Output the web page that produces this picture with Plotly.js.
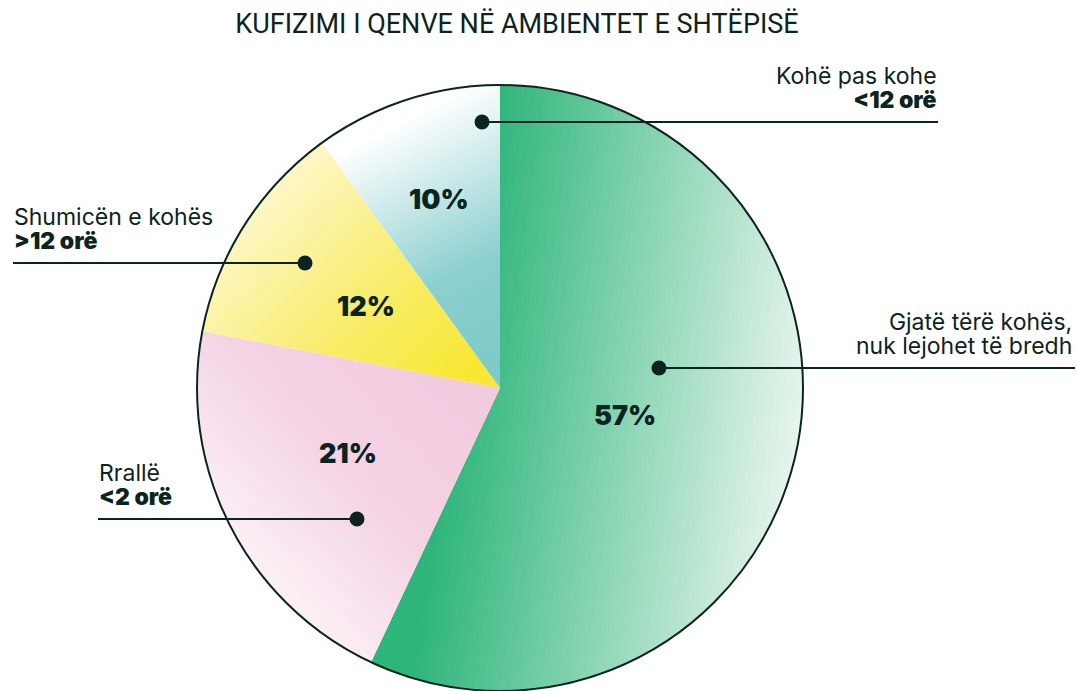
<!DOCTYPE html>
<html>
<head>
<meta charset="utf-8">
<script src="https://cdn.plot.ly/plotly-3.0.1.min.js"></script>
<style>html,body{margin:0;padding:0;background:#fff;}#chart{width:1077px;height:691px;}</style>
</head>
<body>
<div id="chart"></div>
<script>
// ---- data ----
var categories = ["Gjatë tërë kohës, nuk lejohet të bredh", "Rrallë <2 orë", "Shumicën e kohës >12 orë", "Kohë pas kohe <12 orë"];
var values = [57, 21, 12, 10];
var labelLine1 = ["Gjatë tërë kohës,", "Rrallë", "Shumicën e kohës", "Kohë pas kohe"];
var labelLine2 = ["nuk lejohet të bredh", "<2 orë", ">12 orë", "<12 orë"];
var baseColors = ["#7fcb9e", "#f5d8e7", "#f9ef8a", "#b4dfdf"];
var titleText = "KUFIZIMI I QENVE NË AMBIENTET E SHTËPISË";

// ---- layout helpers (pixel -> paper) ----
var W = 1077, H = 691, T = 85, B = 0;
var PH = H - T - B;
function px(x){ return x / W; }
function py(y){ return (H - B - y) / PH; }
var ink = "#0c2420";
var cx = 500, cy = 388, R = 303;
var FONT = "Inter, Roboto, sans-serif";
var LABEL_SIZE = 23, LINE_GAP = 24;

function esc(s){ return s.replace(/</g,"&lt;").replace(/>/g,"&gt;"); }

// callout placement (pixels)
var callouts = [
  {i:0, dot:[659,368], line:[659,1075], textX:1074, anchor:"right", bold:false},
  {i:1, dot:[357,519], line:[98,357],   textX:97,   anchor:"left",  bold:true},
  {i:2, dot:[305,263], line:[13,305],   textX:12,   anchor:"left",  bold:true},
  {i:3, dot:[482,122], line:[482,938],  textX:939,  anchor:"right", bold:true}
];
// radius (px) and small angle nudge (deg) of each percent label along its slice mid-angle
var pctRadius = [128, 165, 157, 198];
var pctNudge = [0, 3.8, -1.2, 0];

var shapes = [{
  type:"circle", xref:"paper", yref:"paper",
  xsizemode:"pixel", ysizemode:"pixel",
  xanchor:px(cx), yanchor:py(cy),
  x0:-R, x1:R, y0:-R, y1:R,
  line:{color:ink, width:2}, fillcolor:"rgba(0,0,0,0)", layer:"above"
}];
var annotations = [];
callouts.forEach(function(c){
  var ly = c.dot[1];
  shapes.push({type:"line", xref:"paper", yref:"paper",
    x0:px(c.line[0]), x1:px(c.line[1]), y0:py(ly), y1:py(ly),
    line:{color:ink, width:2}, layer:"above"});
  shapes.push({type:"circle", xref:"paper", yref:"paper",
    xsizemode:"pixel", ysizemode:"pixel", xanchor:px(c.dot[0]), yanchor:py(ly),
    x0:-7.5, x1:7.5, y0:-7.5, y1:7.5,
    fillcolor:ink, line:{color:ink, width:0}, layer:"above"});
  var base1 = ly - 39;
  var l2 = esc(labelLine2[c.i]);
  annotations.push({
    xref:"paper", yref:"paper", x:px(c.textX), y:py(base1 - 23.3),
    xanchor:c.anchor, yanchor:"top", align:c.anchor, showarrow:false, borderpad:1,
    text: esc(labelLine1[c.i]) + "<br>" + (c.bold ? '<span style="font-weight:900">' + l2 + '</span>' : l2),
    font:{family:FONT, size:LABEL_SIZE, color:ink, weight:400}
  });
});

// percent labels along each slice's mid-angle
var total = values.reduce(function(a,b){return a+b;}, 0);
var cum = 0;
values.forEach(function(v, k){
  var frac = (cum + v/2) / total;
  cum += v;
  var th = 2*Math.PI*frac + pctNudge[k]*Math.PI/180;
  var x = cx + pctRadius[k]*Math.sin(th);
  var y = cy - pctRadius[k]*Math.cos(th);
  annotations.push({
    xref:"paper", yref:"paper", x:px(x), y:py(y),
    xanchor:"center", yanchor:"middle", showarrow:false,
    text: Math.round(100*v/total) + "%",
    font:{family:FONT, size:27, color:ink, weight:900}
  });
});

var trace = {
  type:"pie",
  values:values,
  labels:categories,
  sort:false,
  direction:"clockwise",
  rotation:0,
  marker:{colors:baseColors, line:{width:0}},
  textinfo:"none",
  hoverinfo:"none",
  showlegend:false,
  domain:{x:[px(cx-R), px(cx+R)], y:[0,1]}
};

var layout = {
  width:W, height:H,
  margin:{l:0, r:0, t:T, b:B},
  paper_bgcolor:"#ffffff",
  plot_bgcolor:"#ffffff",
  title:{text:titleText, x:px(517), xanchor:"center", xref:"paper", y:1-23.5/H, yanchor:"middle", yref:"container",
         font:{family:"Roboto, Inter, sans-serif", size:27, color:ink, weight:400}},
  shapes:shapes,
  annotations:annotations,
  showlegend:false
};

// gradient styling for slices: [x1,y1,x2,y2, stops]
var gradients = [
  [0,0.4,1,0.6, [[0.2,"#2db57a"],[1,"#ebf6ef"]]],
  [1,0.15,0.15,1, [[0,"#f2c9de"],[0.45,"#f4d3e4"],[1,"#ffffff"]]],
  [0.95,0.85,0.05,0.1, [[0,"#f8e835"],[0.35,"#f8ec6a"],[1,"#fffbe6"]]],
  [0.6,1,0.3,0, [[0,"#7fcaca"],[0.3,"#8ccfcf"],[0.85,"#ffffff"],[1,"#ffffff"]]]
];

Plotly.newPlot("chart", [trace], layout, {displayModeBar:false, staticPlot:true}).then(function(gd){
  var svg = gd.querySelector("svg.main-svg");
  var NS = "http://www.w3.org/2000/svg";
  var defs = svg.querySelector("defs");
  if(!defs){ defs = document.createElementNS(NS,"defs"); svg.insertBefore(defs, svg.firstChild); }
  var paths = gd.querySelectorAll(".pielayer .slice path.surface");
  paths.forEach(function(p, k){
    var g = gradients[k]; if(!g) return;
    var lg = document.createElementNS(NS,"linearGradient");
    lg.setAttribute("id","sliceGrad"+k);
    lg.setAttribute("x1",g[0]); lg.setAttribute("y1",g[1]);
    lg.setAttribute("x2",g[2]); lg.setAttribute("y2",g[3]);
    g[4].forEach(function(s){
      var st = document.createElementNS(NS,"stop");
      st.setAttribute("offset", s[0]);
      st.setAttribute("stop-color", s[1]);
      lg.appendChild(st);
    });
    defs.appendChild(lg);
    p.style.fill = "url(#sliceGrad"+k+")";
  });
  // tighten the line spacing of the two-line callout labels to match the reference
  gd.querySelectorAll(".annotation-text").forEach(function(t){
    var lines = t.querySelectorAll("tspan.line");
    for(var j = 1; j < lines.length; j++){
      lines[j].setAttribute("dy", (LINE_GAP / LABEL_SIZE).toFixed(3) + "em");
    }
  });
});
</script>
</body>
</html>
